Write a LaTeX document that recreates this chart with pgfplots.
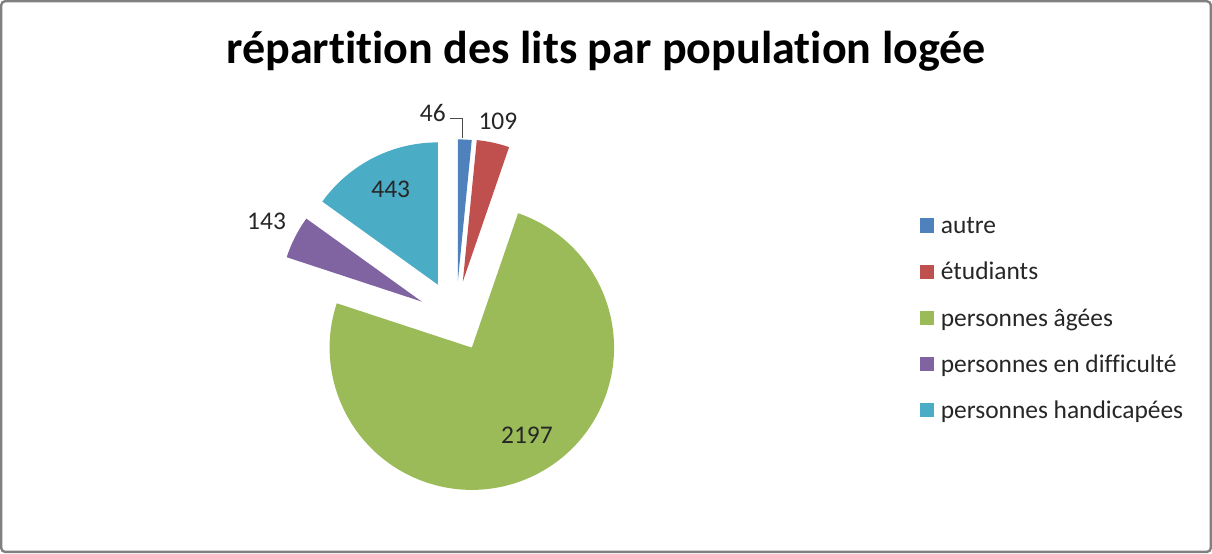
\documentclass[border=0pt]{standalone}
\usepackage{pgfplots}
\pgfplotsset{compat=1.18}
\usepackage{pgfplotstable}
\usepackage{fontspec}
\setmainfont{Carlito}[Ligatures=NoCommon]
\definecolor{cautre}{HTML}{4F81BD}
\definecolor{cetud}{HTML}{C0504D}
\definecolor{cagees}{HTML}{9BBB59}
\definecolor{cdiff}{HTML}{8064A2}
\definecolor{chand}{HTML}{4BACC6}
% name, value, colour, slice vertex (px), data label centre (px)
\pgfplotstableread{
name value col vx vy lx ly
{autre} 46 cautre 458 282 433 114
{étudiants} 109 cetud 463 282 498 122
{personnes âgées} 2197 cagees 472 348 527 435
{personnes en difficulté} 143 cdiff 422 302 267 222
{personnes handicapées} 443 chand 438 285 391 190
}\piedata
\begin{document}
\begin{tikzpicture}
\gdef\pietotal{0}%
\foreach \i in {0,...,4}{%
  \pgfplotstablegetelem{\i}{value}\of\piedata
  \pgfmathparse{\pietotal+\pgfplotsretval}\xdef\pietotal{\pgfmathresult}}%
\gdef\cura{90}%
\foreach \i in {0,...,4}{%
  \pgfplotstablegetelem{\i}{value}\of\piedata
  \expandafter\xdef\csname pv\i\endcsname{\pgfplotsretval}%
  \pgfmathparse{\cura-(\pgfplotsretval/\pietotal)*360}\let\nexta\pgfmathresult
  \expandafter\xdef\csname pa\i\endcsname{\cura}%
  \expandafter\xdef\csname pb\i\endcsname{\nexta}%
  \xdef\cura{\nexta}%
  \pgfplotstablegetelem{\i}{col}\of\piedata
  \expandafter\xdef\csname pc\i\endcsname{\pgfplotsretval}%
  \pgfplotstablegetelem{\i}{vx}\of\piedata
  \expandafter\xdef\csname vx\i\endcsname{\pgfplotsretval}%
  \pgfplotstablegetelem{\i}{vy}\of\piedata
  \expandafter\xdef\csname vy\i\endcsname{\pgfplotsretval}%
  \pgfplotstablegetelem{\i}{lx}\of\piedata
  \expandafter\xdef\csname lx\i\endcsname{\pgfplotsretval}%
  \pgfplotstablegetelem{\i}{ly}\of\piedata
  \expandafter\xdef\csname ly\i\endcsname{\pgfplotsretval}%
  \pgfplotstablegetelem{\i}{name}\of\piedata
  \expandafter\xdef\csname pn\i\endcsname{\pgfplotsretval}%
}%
\begin{axis}[
  scale only axis, width=606pt, height=277pt,
  xmin=0, xmax=1212, ymin=0, ymax=554, y dir=reverse,
  hide axis, clip=false]
\draw[color=black!50, line width=1.2pt, rounded corners=2pt] (axis cs:2,2) rectangle (axis cs:1210,552);
\node[font=\bfseries\fontsize{23}{28}\selectfont, inner sep=0pt] at (axis cs:606,52) {répartition des lits par population logée};
\pgfplotsinvokeforeach{0,...,4}{
  \fill[fill=\csname pc#1\endcsname] (axis cs:\csname vx#1\endcsname,\csname vy#1\endcsname) -- ++(\csname pa#1\endcsname:71pt) arc[start angle=\csname pa#1\endcsname, end angle=\csname pb#1\endcsname, radius=71pt] -- cycle;
  \node[font=\fontsize{12.7}{15}\selectfont, inner sep=0pt, text=black!85] at (axis cs:\csname lx#1\endcsname,\csname ly#1\endcsname) {\csname pv#1\endcsname};
  \fill[fill=\csname pc#1\endcsname] (axis cs:920,{219+46*#1}) rectangle ++(7pt,-7pt);
  \node[font=\fontsize{12.7}{15}\selectfont, inner sep=0pt, anchor=west, text=black!85] at (axis cs:940,{226+46*#1}) {\csname pn#1\endcsname\vphantom{Ég}};
}
\draw[black!70, line width=0.5pt] (axis cs:450,119) -- (axis cs:463,119) -- (axis cs:463,139);
\end{axis}
\end{tikzpicture}
\end{document}
